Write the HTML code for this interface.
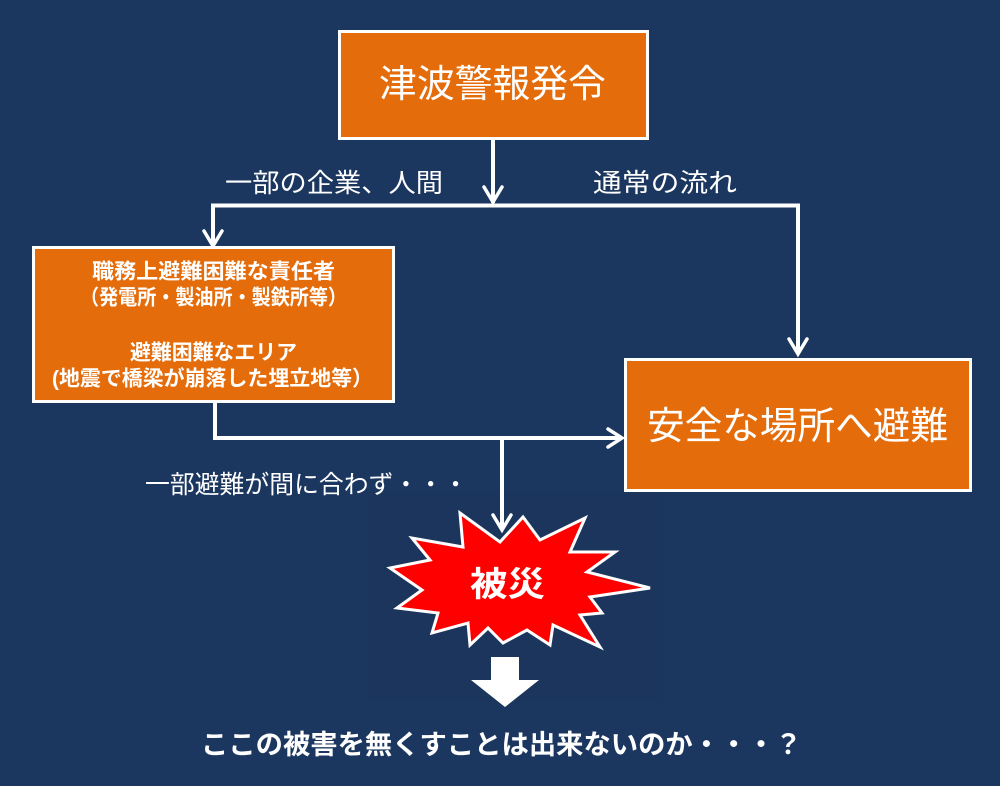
<!DOCTYPE html>
<html><head><meta charset="utf-8"><style>
html,body{margin:0;padding:0;background:#1c375f;}
svg{display:block;}
text{font-family:"Liberation Sans","Noto Sans CJK JP",sans-serif;fill:#fff;}
</style></head><body>
<svg width="1000" height="786" viewBox="0 0 1000 786" xmlns="http://www.w3.org/2000/svg">
<rect x="0" y="0" width="1000" height="786" fill="#1c375f"/>
<rect x="368" y="492" width="295" height="210" fill="#1b355c"/>

<!-- boxes -->
<rect x="339.5" y="31.5" width="308" height="107" fill="#e46c0a" stroke="#fff" stroke-width="3"/>
<rect x="33.5" y="247.5" width="360" height="154" fill="#e46c0a" stroke="#fff" stroke-width="3"/>
<rect x="625.5" y="359.5" width="345" height="131" fill="#e46c0a" stroke="#fff" stroke-width="3"/>

<!-- connectors -->
<g stroke="#fff" stroke-width="4" fill="none" stroke-linecap="square">
<line x1="493" y1="140" x2="493" y2="201"/>
<polyline points="213,245 213,205.5 798,205.5 798,352"/>
<polyline points="215,403 215,438 620,438"/>
<line x1="502" y1="438" x2="502" y2="528"/>
</g>
<g stroke="#fff" stroke-width="3.5" fill="none" stroke-linecap="round" stroke-linejoin="miter">
<polyline points="484,187 493,202 502,187"/>
<polyline points="204,231 213,246 222,231"/>
<polyline points="789,339 798,354 807,339"/>
<polyline points="608,429 622,438 608,447"/>
<polyline points="493,515 502,530 511,515"/>
</g>

<!-- explosion -->
<polygon points="460,513 500,542 523,517 540,540 585,518 570,552 615,552 587,572 650,588 590,597 602,613 580,615 600,647 553,625 550,645 527,630 503,643 488,628 470,645 468,623 432,633 438,613 397,608 422,590 390,568 430,560 412,538 463,547" fill="#ff0000" stroke="#fff" stroke-width="3" stroke-linejoin="miter"/>

<!-- block arrow -->
<polygon points="491,657 519,657 519,680 539,680 505,707 471,680 491,680" fill="#fff"/>

<!-- texts -->
<text x="492.5" y="85" font-size="38" text-anchor="middle" dominant-baseline="central" textLength="227" lengthAdjust="spacingAndGlyphs">津波警報発令</text>
<text x="334" y="183" font-size="26" text-anchor="middle" dominant-baseline="central" textLength="218" lengthAdjust="spacingAndGlyphs">一部の企業、人間</text>
<text x="665" y="183" font-size="26" text-anchor="middle" dominant-baseline="central" textLength="144" lengthAdjust="spacingAndGlyphs">通常の流れ</text>

<g font-weight="bold" font-size="21">
<text x="213.5" y="272" text-anchor="middle" dominant-baseline="central" textLength="243" lengthAdjust="spacingAndGlyphs">職務上避難困難な責任者</text>
<text x="213.5" y="298" text-anchor="middle" dominant-baseline="central" textLength="267" lengthAdjust="spacingAndGlyphs">（発電所・製油所・製鉄所等）</text>
<text x="213.5" y="353" text-anchor="middle" dominant-baseline="central" textLength="167" lengthAdjust="spacingAndGlyphs">避難困難なエリア</text>
<text x="212.5" y="379" text-anchor="middle" dominant-baseline="central" textLength="321" lengthAdjust="spacingAndGlyphs">(地震で橋梁が崩落した埋立地等）</text>
</g>

<text x="797.5" y="427" font-size="38" text-anchor="middle" dominant-baseline="central" textLength="301" lengthAdjust="spacingAndGlyphs">安全な場所へ避難</text>
<text x="306.5" y="485" font-size="25" text-anchor="middle" dominant-baseline="central" textLength="323" lengthAdjust="spacingAndGlyphs">一部避難が間に合わず・・・</text>
<text x="507.5" y="585" font-size="34" font-weight="bold" text-anchor="middle" dominant-baseline="central" textLength="75" lengthAdjust="spacingAndGlyphs">被災</text>
<text x="501.5" y="745" font-size="27" font-weight="bold" text-anchor="middle" dominant-baseline="central" textLength="601" lengthAdjust="spacingAndGlyphs">ここの被害を無くすことは出来ないのか・・・？</text>
</svg>
</body></html>
